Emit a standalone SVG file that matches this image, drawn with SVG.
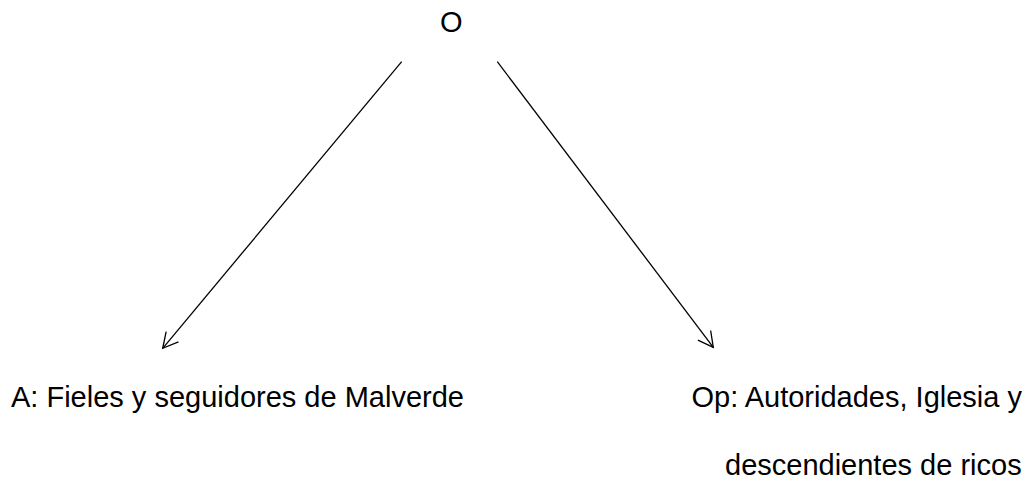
<svg xmlns="http://www.w3.org/2000/svg" width="1036" height="479" viewBox="0 0 1036 479">
<style>
text{font-family:"Liberation Sans",Arial,sans-serif;font-size:29px;fill:#000}
.c{stroke:#000;stroke-width:1.3;fill:none}
</style>
<defs>
<marker id="ah" markerUnits="userSpaceOnUse" markerWidth="40" markerHeight="40" viewBox="-20 -20 40 40" refX="0" refY="0" orient="auto">
<path d="M-15,-8 L0,0 L-15,8" fill="none" stroke="#000" stroke-width="1.3"/>
</marker>
</defs>
<rect width="1036" height="479" fill="#fff"/>
<g id="connectors">
<line class="c" x1="401.7" y1="61.7" x2="162.7" y2="348.3" marker-end="url(#ah)"/>
<line class="c" x1="497.3" y1="61.7" x2="713.3" y2="347.3" marker-end="url(#ah)"/>
</g>
<g id="node-O"><text x="440" y="32">O</text></g>
<g id="node-A"><text x="11" y="407">A: Fieles y seguidores de Malverde</text></g>
<g id="node-Op"><text x="691.5" y="407">Op: Autoridades, Iglesia y</text><text x="725" y="475">descendientes de ricos</text></g>
</svg>
